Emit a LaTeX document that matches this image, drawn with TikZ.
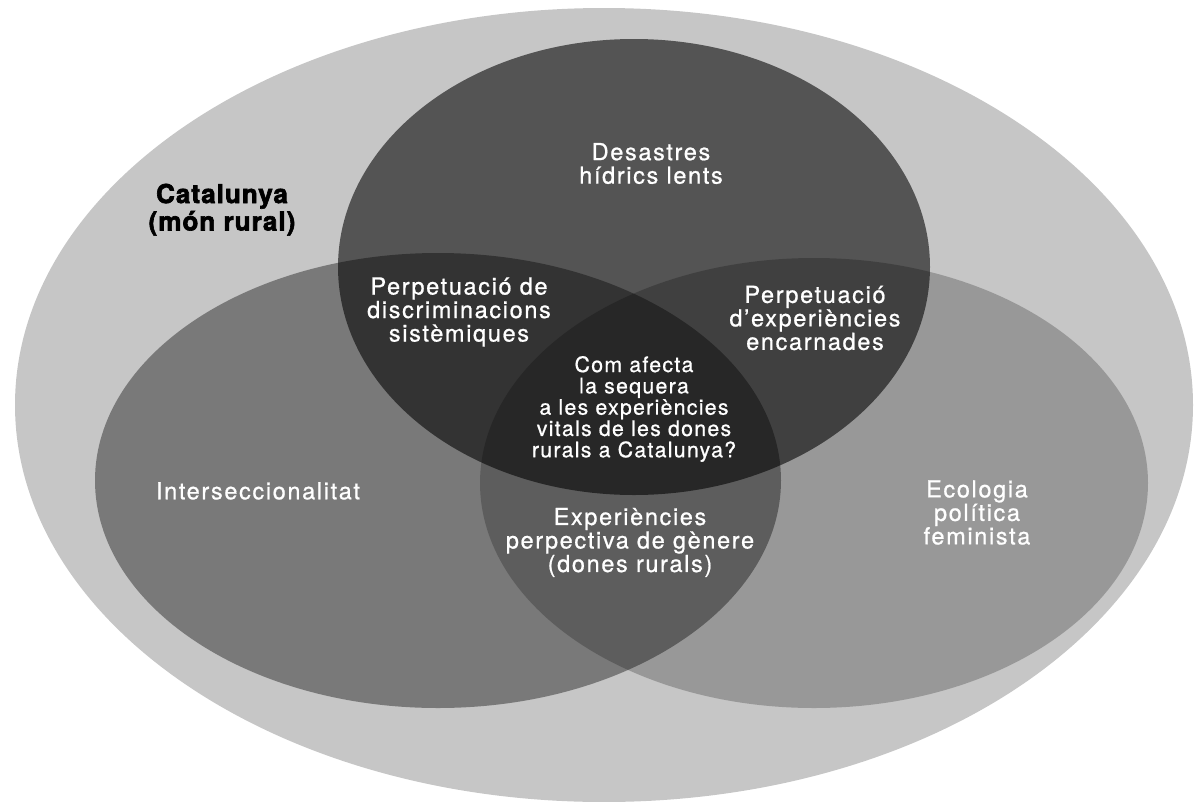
\documentclass[tikz,border=0pt]{standalone}
\usepackage{fontspec}
\setmainfont{TeX Gyre Heros}[LetterSpace=7,FakeBold=0.8]
\newfontfamily\catfont{TeX Gyre Heros}[LetterSpace=4,FakeBold=2.5]
\newfontfamily\qfont{TeX Gyre Heros}[LetterSpace=6,FakeBold=0.8]
\definecolor{outerc}{HTML}{C6C6C6}
\begin{document}
\begin{tikzpicture}[x=1pt,y=1pt,
  lbl/.style={text=white, align=center, inner sep=0pt, font=\fontsize{23.5}{23.5}\selectfont},
  qlbl/.style={text=white, align=center, inner sep=0pt, font=\qfont\fontsize{21.3}{21.3}\selectfont},
  catlbl/.style={text=black, align=center, inner sep=0pt, font=\catfont\bfseries\fontsize{26}{27.4}\selectfont},
  overlay/.style={fill=black, fill opacity=#1}]
\useasboundingbox (0,0) rectangle (1200,-801);
% outer region
\fill[outerc] (604,-405) ellipse [x radius=589pt, y radius=397pt];
% three overlapping sets
\fill[overlay=0.571] (634,-267) ellipse [x radius=296pt, y radius=228pt];
\fill[overlay=0.384] (438,-480.5) ellipse [x radius=343pt, y radius=227.5pt];
\fill[overlay=0.227] (814,-483) ellipse [x radius=334pt, y radius=225pt];
% labels
\node[catlbl] (cat) at (222,-209.7) {Catalunya\\(món rural)};
\node[lbl] (desastres) at (651,-163.5) {Desastres\\hídrics lents};
\node[lbl] (discr) at (459,-312) {Perpetuació de\\discriminacions\\sistèmiques};
\node[lbl] (encarn) at (815,-318) {Perpetuació\\d’experiències\\encarnades};
\node[qlbl] (question) at (634,-409) {Com afecta\\la sequera\\a les experiències\\vitals de les dones\\rurals a Catalunya?};
\node[lbl] (exper) at (630,-542.4) {Experiències\\perpectiva de gènere\\(dones rurals)};
\node[lbl, anchor=base] (inter) at (258,-499.3) {Interseccionalitat};
\node[lbl] (ecol) at (977,-512.5) {Ecologia\\política\\feminista};
\end{tikzpicture}
\end{document}
